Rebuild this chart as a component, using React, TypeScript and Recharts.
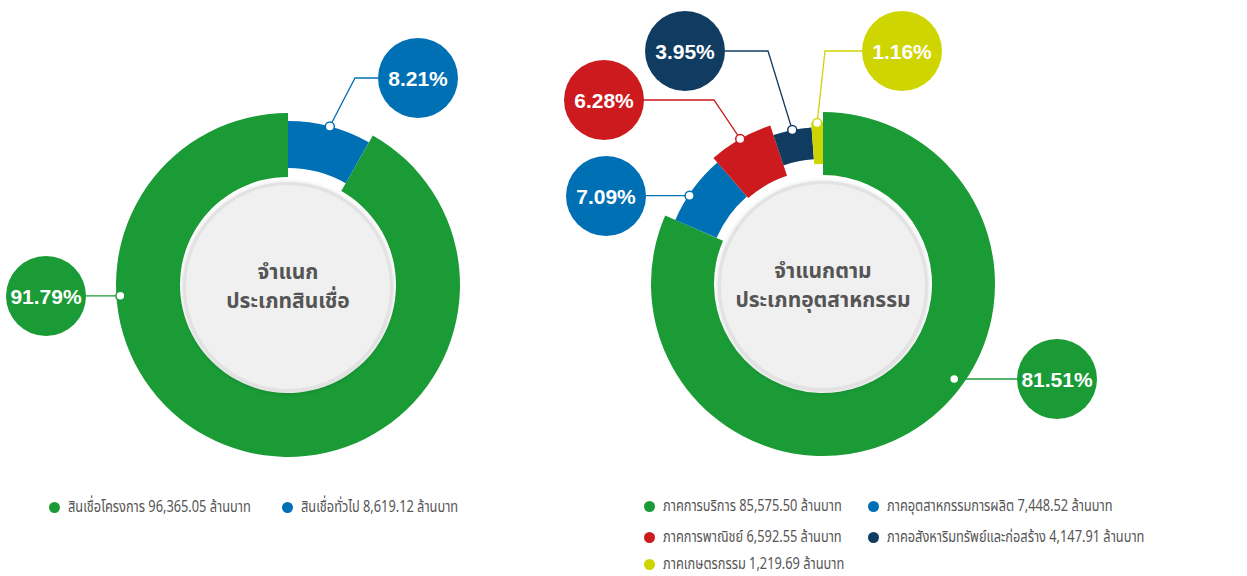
import React from "react";
import { PieChart, Pie, Cell } from "recharts";

// ---------- data ----------
const loanCategories = ["สินเชื่อโครงการ", "สินเชื่อทั่วไป"];
const loanValues = [96365.05, 8619.12];
const loanPercentLabels = ["91.79%", "8.21%"];

const industryCategories = [
  "ภาคการบริการ",
  "ภาคอุตสาหกรรมการผลิต",
  "ภาคการพาณิชย์",
  "ภาคอสังหาริมทรัพย์และก่อสร้าง",
  "ภาคเกษตรกรรม",
];
const industryValues = [85575.5, 7448.52, 6592.55, 4147.91, 1219.69];
const industryPercentLabels = ["81.51%", "7.09%", "6.28%", "3.95%", "1.16%"];

const loanTitle = ["จำแนก", "ประเภทสินเชื่อ"];
const industryTitle = ["จำแนกตาม", "ประเภทอุตสาหกรรม"];
const unitText = "ล้านบาท";

// ---------- styles ----------
const loanColors = ["#1a9b36", "#0070b4"];
const industryColors = ["#1a9b36", "#0070b4", "#cc1a1e", "#113c62", "#cfd500"];
const loanInner = [108, 117];
const loanOuter = [172, 164];
const industryInner = [109, 116, 114, 125, 120];
const industryOuter = [172, 161, 167, 157, 162];

const W = 1247;
const H = 576;
const LEFT_CX = 288;
const LEFT_CY = 285;
const RIGHT_CX = 823;
const RIGHT_CY = 284;

type LabelCfg = {
  angle?: number; // override dot angle (deg)
  dotR: number;
  bubble: [number, number]; // relative to center
  elbow?: [number, number]; // relative to center
};

const loanLabelCfg: LabelCfg[] = [
  { angle: 183.7, dotR: 168, bubble: [-242, 11] },
  { dotR: 164, bubble: [130, -207], elbow: [67, -207] },
];
const industryLabelCfg: LabelCfg[] = [
  { angle: -35.9, dotR: 162, bubble: [234, 95] },
  { angle: 146.5, dotR: 160, bubble: [-217, -88] },
  { dotR: 167, bubble: [-219, -184], elbow: [-109, -184] },
  { dotR: 157, bubble: [-138, -233], elbow: [-55, -233] },
  { dotR: 161, bubble: [79, -233], elbow: [2, -233] },
];

const RAD = Math.PI / 180;
const BUBBLE_R = 40;
const THAI_FONT = "'Noto Sans Thai', 'Noto Sans Thai UI', 'Loma', 'Garuda', 'Tahoma', sans-serif";

function makeLabel(
  target: number,
  cfgs: LabelCfg[],
  colors: string[],
  texts: string[]
) {
  return (props: any) => {
    const { cx, cy, midAngle, index } = props;
    if (index !== target) return null;
    const cfg = cfgs[target];
    const ang = (cfg.angle ?? midAngle) * RAD;
    const dx = cx + cfg.dotR * Math.cos(ang);
    const dy = cy - cfg.dotR * Math.sin(ang);
    const bx = cx + cfg.bubble[0];
    const by = cy + cfg.bubble[1];
    const color = colors[target];
    const edgeX = bx + (bx < dx ? BUBBLE_R : -BUBBLE_R);
    const pts: string[] = [`${dx},${dy}`];
    if (cfg.elbow) pts.push(`${cx + cfg.elbow[0]},${cy + cfg.elbow[1]}`);
    pts.push(`${edgeX},${cfg.elbow ? cy + cfg.elbow[1] : dy}`);
    return (
      <g key={`lbl-${target}`}>
        <polyline points={pts.join(" ")} fill="none" stroke={color} strokeWidth={1.3} />
        <circle cx={dx} cy={dy} r={4.5} fill="#ffffff" stroke={color} strokeWidth={1.5} />
        <circle cx={bx} cy={by} r={BUBBLE_R} fill={color} />
        <text
          x={bx}
          y={by}
          textAnchor="middle"
          dominantBaseline="central"
          fill="#ffffff"
          fontFamily="'Liberation Sans', Arial, Helvetica, sans-serif"
          fontWeight="bold"
          fontSize={21}
        >
          {texts[target]}
        </text>
      </g>
    );
  };
}

function renderPies(
  prefix: string,
  names: string[],
  values: number[],
  colors: string[],
  inner: number[],
  outer: number[],
  cx: number,
  cy: number,
  startAngle: number,
  endAngle: number,
  cfgs: LabelCfg[],
  texts: string[]
) {
  const data = names.map((n, i) => ({ name: n, value: values[i] }));
  return names.map((_, t) => (
    <Pie
      key={`${prefix}-${t}`}
      data={data}
      dataKey="value"
      nameKey="name"
      cx={cx}
      cy={cy}
      innerRadius={inner[t]}
      outerRadius={outer[t]}
      startAngle={startAngle}
      endAngle={endAngle}
      stroke="none"
      isAnimationActive={false}
      labelLine={false}
      label={makeLabel(t, cfgs, colors, texts)}
    >
      {data.map((_, i) => (
        <Cell key={i} fill={i === t ? colors[i] : "transparent"} stroke="none" />
      ))}
    </Pie>
  ));
}

function CenterDisc({ cx, cy, lines }: { cx: number; cy: number; lines: string[] }) {
  const r = 105;
  return (
    <div
      style={{
        position: "absolute",
        left: cx - r,
        top: cy - r + 2,
        width: r * 2,
        height: r * 2,
        boxSizing: "border-box",
        borderRadius: "50%",
        background: "#f0f0f0",
        border: "3px solid #e2e2e2",
        boxShadow: "0 1px 5px rgba(0,0,0,0.18)",
        display: "flex",
        flexDirection: "column",
        alignItems: "center",
        justifyContent: "center",
        color: "#555555",
        fontFamily: THAI_FONT,
        fontWeight: 700,
        fontSize: 21,
        lineHeight: "29px",
        pointerEvents: "none",
      }}
    >
      {lines.map((l, i) => (
        <div key={i}>{l}</div>
      ))}
    </div>
  );
}

function fmt(v: number) {
  return v.toLocaleString("en-US", { minimumFractionDigits: 2, maximumFractionDigits: 2 });
}

function LegendItem({ x, y, color, text }: { x: number; y: number; color: string; text: string }) {
  return (
    <div
      style={{
        position: "absolute",
        left: x - 5,
        top: y - 8,
        height: 16,
        display: "flex",
        alignItems: "center",
        whiteSpace: "nowrap",
        fontFamily: THAI_FONT,
        fontSize: 16.5,
        lineHeight: "16px",
        color: "#555555",
      }}
    >
      <span
        style={{
          display: "inline-block",
          width: 11,
          height: 11,
          borderRadius: "50%",
          background: color,
          marginRight: 8,
        }}
      />
      <span
        style={{
          display: "inline-block",
          transform: "scaleX(0.775)",
          transformOrigin: "left center",
        }}
      >
        {text}
      </span>
    </div>
  );
}

const loanLegendPos: [number, number][] = [
  [54, 507],
  [287, 507],
];
const industryLegendPos: [number, number][] = [
  [649, 506],
  [873, 506],
  [649, 537],
  [873, 537],
  [649, 564],
];

export default function App() {
  return (
    <div
      style={{
        position: "absolute",
        left: 0,
        top: 0,
        width: W,
        height: H,
        background: "#ffffff",
        overflow: "hidden",
      }}
    >
      <PieChart width={W} height={H} margin={{ top: 0, right: 0, bottom: 0, left: 0 }}>
        {renderPies(
          "loan",
          loanCategories,
          loanValues,
          loanColors,
          loanInner,
          loanOuter,
          LEFT_CX,
          LEFT_CY,
          90,
          450,
          loanLabelCfg,
          loanPercentLabels
        )}
        {renderPies(
          "ind",
          industryCategories,
          industryValues,
          industryColors,
          industryInner,
          industryOuter,
          RIGHT_CX,
          RIGHT_CY,
          90,
          -270,
          industryLabelCfg,
          industryPercentLabels
        )}
      </PieChart>
      <CenterDisc cx={LEFT_CX} cy={LEFT_CY} lines={loanTitle} />
      <CenterDisc cx={RIGHT_CX} cy={RIGHT_CY} lines={industryTitle} />
      {loanCategories.map((c, i) => (
        <LegendItem
          key={c}
          x={loanLegendPos[i][0]}
          y={loanLegendPos[i][1]}
          color={loanColors[i]}
          text={`${c} ${fmt(loanValues[i])} ${unitText}`}
        />
      ))}
      {industryCategories.map((c, i) => (
        <LegendItem
          key={c}
          x={industryLegendPos[i][0]}
          y={industryLegendPos[i][1]}
          color={industryColors[i]}
          text={`${c} ${fmt(industryValues[i])} ${unitText}`}
        />
      ))}
    </div>
  );
}
